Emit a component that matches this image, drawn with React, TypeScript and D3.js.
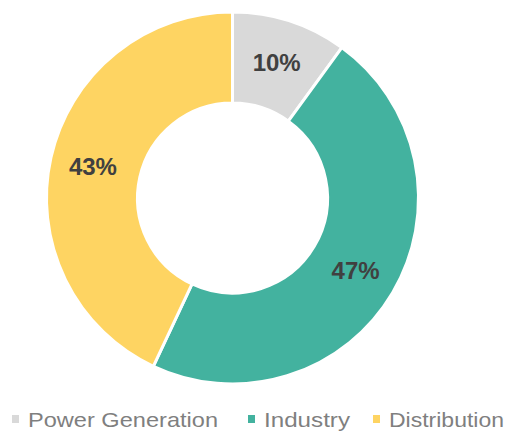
import React, { useEffect, useRef } from "react";
import * as d3 from "d3";

const categories = ["Power Generation", "Industry", "Distribution"];
const shares = [10, 47, 43];
const colors = ["#d9d9d9", "#43b29f", "#fed462"];

export default function App() {
  const svgRef = useRef<SVGSVGElement>(null);

  useEffect(() => {
    const width = 508;
    const height = 432;
    const cx = 232.5;
    const cy = 198;
    const outerR = 186;
    const innerR = 95;

    const svg = d3.select(svgRef.current).attr("width", width).attr("height", height);
    svg.selectAll("*").remove();

    svg.append("rect").attr("width", width).attr("height", height).attr("fill", "#ffffff");

    const pie = d3
      .pie<number>()
      .sort(null)
      .value((d) => d);
    const arcs = pie(shares);

    const arc = d3.arc<d3.PieArcDatum<number>>().innerRadius(innerR).outerRadius(outerR);
    const labelArc = d3.arc<d3.PieArcDatum<number>>().innerRadius(143).outerRadius(143);

    const g = svg.append("g").attr("transform", `translate(${cx},${cy})`);

    g.selectAll("path.slice")
      .data(arcs)
      .enter()
      .append("path")
      .attr("class", "slice")
      .attr("d", (d) => arc(d))
      .attr("fill", (d, i) => colors[i])
      .attr("stroke", "#ffffff")
      .attr("stroke-width", 3)
      .attr("stroke-linejoin", "round");

    g.selectAll("text.pct")
      .data(arcs)
      .enter()
      .append("text")
      .attr("class", "pct")
      .attr("transform", (d) => `translate(${labelArc.centroid(d)})`)
      .attr("text-anchor", "middle")
      .attr("dy", "0.36em")
      .attr("font-family", "Liberation Sans, Arial, sans-serif")
      .attr("font-weight", "bold")
      .attr("font-size", 24)
      .attr("fill", "#404040")
      .text((d) => `${d.data}%`);

    // legend along the bottom
    const legendX = [12, 248, 373];
    const legendW = [190, 86, 115];
    const legend = svg.append("g");
    categories.forEach((name, i) => {
      legend
        .append("rect")
        .attr("x", legendX[i])
        .attr("y", 415)
        .attr("width", 7)
        .attr("height", 8)
        .attr("fill", colors[i]);
      legend
        .append("text")
        .attr("x", legendX[i] + 16)
        .attr("y", 427)
        .attr("font-family", "Liberation Sans, Arial, sans-serif")
        .attr("font-size", 21)
        .attr("fill", "#7f7f7f")
        .attr("textLength", legendW[i])
        .attr("lengthAdjust", "spacingAndGlyphs")
        .text(name);
    });
  }, []);

  return <svg ref={svgRef} style={{ position: "absolute", left: 0, top: 0 }}></svg>;
}
